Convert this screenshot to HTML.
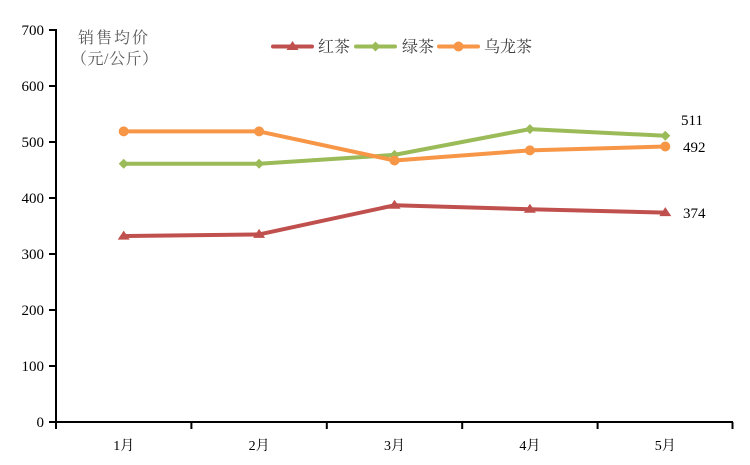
<!DOCTYPE html>
<html><head><meta charset="utf-8"><style>
html,body{margin:0;padding:0;background:#fff;}
svg{display:block;}
</style></head><body>
<svg width="750" height="465" viewBox="0 0 750 465" xmlns="http://www.w3.org/2000/svg">
<rect width="750" height="465" fill="#fff"/>
<!-- axes -->
<g stroke="#000" stroke-width="2" fill="none">
<line x1="56" y1="29" x2="56" y2="423"/>
<line x1="55" y1="422" x2="733" y2="422"/>
<line x1="49" y1="30" x2="56" y2="30"/>
<line x1="49" y1="86" x2="56" y2="86"/>
<line x1="49" y1="142" x2="56" y2="142"/>
<line x1="49" y1="198" x2="56" y2="198"/>
<line x1="49" y1="254" x2="56" y2="254"/>
<line x1="49" y1="310" x2="56" y2="310"/>
<line x1="49" y1="366" x2="56" y2="366"/>
<line x1="49" y1="422" x2="56" y2="422"/>
<line x1="56" y1="422" x2="56" y2="429"/>
<line x1="191.4" y1="422" x2="191.4" y2="429"/>
<line x1="326.8" y1="422" x2="326.8" y2="429"/>
<line x1="462.2" y1="422" x2="462.2" y2="429"/>
<line x1="597.6" y1="422" x2="597.6" y2="429"/>
<line x1="732.5" y1="422" x2="732.5" y2="429"/>
</g>
<g font-family="Liberation Serif, serif" font-size="15" fill="#000" text-anchor="end">
<text x="44" y="35">700</text>
<text x="44" y="91">600</text>
<text x="44" y="147">500</text>
<text x="44" y="203">400</text>
<text x="44" y="259">300</text>
<text x="44" y="315">200</text>
<text x="44" y="371">100</text>
<text x="44" y="427">0</text>
</g>
<g font-family="Liberation Serif, 'Noto Serif CJK SC', serif" font-size="14" fill="#000" text-anchor="middle">
<text x="123.7" y="450">1月</text>
<text x="259.1" y="450">2月</text>
<text x="394.5" y="450">3月</text>
<text x="529.9" y="450">4月</text>
<text x="665.3" y="450">5月</text>
</g>
<!-- title -->
<g font-family="'Liberation Serif','Noto Serif CJK SC',serif" font-size="16" fill="#595959">
<text x="78" y="43" letter-spacing="2">销售均价</text>
<text x="71" y="64" letter-spacing="0.5">（元/公斤）</text>
</g>
<!-- series -->
<g fill="none" stroke-width="4" stroke-linejoin="round" stroke-linecap="round">
<polyline stroke="#C0504D" points="123.7,236.1 259.1,234.4 394.5,205.3 529.9,209.2 665.3,212.6"/>
<polyline stroke="#9BBB59" points="123.7,163.8 259.1,163.8 394.5,154.9 529.9,129.1 665.3,135.8"/>
<polyline stroke="#F79646" points="123.7,131.4 259.1,131.4 394.5,160.5 529.9,150.4 665.3,146.5"/>
</g>
<!-- markers -->
<g fill="#C0504D">
<polygon points="123.7,230.6 129.7,239.6 117.7,239.6"/>
<polygon points="259.1,228.9 265.1,237.9 253.1,237.9"/>
<polygon points="394.5,199.8 400.5,208.8 388.5,208.8"/>
<polygon points="529.9,203.7 535.9,212.7 523.9,212.7"/>
<polygon points="665.3,207.1 671.3,216.1 659.3,216.1"/>
</g>
<g fill="#9BBB59">
<polygon points="123.7,158.8 128.7,163.8 123.7,168.8 118.7,163.8"/>
<polygon points="259.1,158.8 264.1,163.8 259.1,168.8 254.1,163.8"/>
<polygon points="394.5,149.9 399.5,154.9 394.5,159.9 389.5,154.9"/>
<polygon points="529.9,124.1 534.9,129.1 529.9,134.1 524.9,129.1"/>
<polygon points="665.3,130.8 670.3,135.8 665.3,140.8 660.3,135.8"/>
</g>
<g fill="#F79646">
<circle cx="123.7" cy="131.4" r="5"/>
<circle cx="259.1" cy="131.4" r="5"/>
<circle cx="394.5" cy="160.5" r="5"/>
<circle cx="529.9" cy="150.4" r="5"/>
<circle cx="665.3" cy="146.5" r="5"/>
</g>
<!-- data labels -->
<g font-family="Liberation Serif, serif" font-size="15" fill="#000">
<text x="681" y="125">511</text>
<text x="683" y="152">492</text>
<text x="683" y="218">374</text>
</g>
<!-- legend -->
<g stroke-width="4" stroke-linecap="round">
<line x1="273" y1="46.5" x2="312" y2="46.5" stroke="#C0504D"/>
<line x1="356" y1="46.5" x2="395" y2="46.5" stroke="#9BBB59"/>
<line x1="439" y1="46.5" x2="478" y2="46.5" stroke="#F79646"/>
</g>
<polygon points="292.5,41 298.5,50 286.5,50" fill="#C0504D"/>
<polygon points="375.5,41.5 380.5,46.5 375.5,51.5 370.5,46.5" fill="#9BBB59"/>
<circle cx="458.5" cy="46.5" r="5" fill="#F79646"/>
<g font-family="'Liberation Serif','Noto Serif CJK SC',serif" font-size="16" fill="#404040">
<text x="318" y="52">红茶</text>
<text x="402" y="52">绿茶</text>
<text x="484" y="52">乌龙茶</text>
</g>
</svg>
</body></html>
